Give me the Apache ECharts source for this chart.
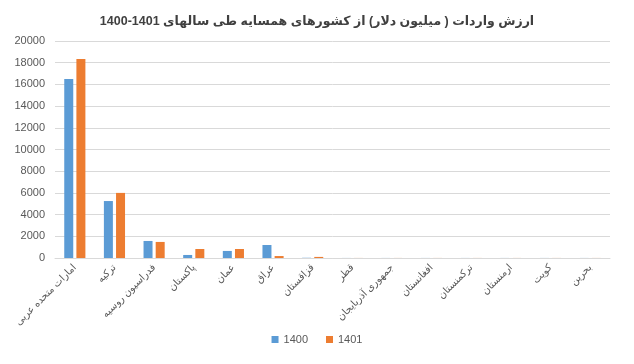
<!DOCTYPE html>
<html><head><meta charset="utf-8">
<script src="https://cdn.jsdelivr.net/npm/echarts@6/dist/echarts.min.js"></script>
<style>html,body{margin:0;padding:0;background:#fff}#c{width:634px;height:364px}</style>
</head><body><div id="c"></div>
<script>
const categories = ['امارات متحده عربی','ترکیه','فدراسیون روسیه','پاکستان','عمان','عراق','قزاقستان','قطر','جمهوری آذربایجان','افغانستان','ترکمنستان','ارمنستان','کویت','بحرین'];
const values1400 = [16500,5250,1570,280,650,1200,20,5,5,5,5,5,5,5];
const values1401 = [18350,6000,1480,830,830,180,100,5,5,5,5,5,5,5];
const seriesNames = ['1400','1401'];
const titleText = 'ارزش واردات ( میلیون دلار) از کشورهای همسایه طی سالهای 1401-1400';
const yTicks = {min:0,max:20000,interval:2000};

const chart = echarts.init(document.getElementById('c'));
const fontFam = 'Liberation Sans, Arial, DejaVu Sans, sans-serif';
chart.setOption({
  backgroundColor:'#fff',
  animation:false,
  title:{text:'\u202B'+titleText+'\u202C',left:'center',top:10,
    textStyle:{fontSize:12.5,fontWeight:'bold',color:'#404040',fontFamily:fontFam}},
  legend:{bottom:14,left:'center',itemWidth:7,itemHeight:7,itemGap:18,icon:'rect',
    textStyle:{fontSize:11,color:'#595959',fontFamily:fontFam}},
  grid:{left:55,right:24,top:41,bottom:106},
  xAxis:{type:'category',data:categories,
    axisLine:{lineStyle:{color:'#d9d9d9'}},axisTick:{show:false},
    axisLabel:{rotate:45,interval:0,fontSize:10,color:'#595959',fontFamily:fontFam,margin:8}},
  yAxis:{type:'value',min:yTicks.min,max:yTicks.max,interval:yTicks.interval,
    axisLine:{show:false},axisTick:{show:false},
    splitLine:{lineStyle:{color:'#d9d9d9'}},
    axisLabel:{fontSize:11,color:'#595959',fontFamily:fontFam,margin:10,formatter:v=>String(v)}},
  series:[
    {name:seriesNames[0],type:'bar',data:values1400,barWidth:9,barGap:'35%',itemStyle:{color:'#5B9BD5'}},
    {name:seriesNames[1],type:'bar',data:values1401,barWidth:9,itemStyle:{color:'#ED7D31'}}
  ]
});
</script></body></html>
